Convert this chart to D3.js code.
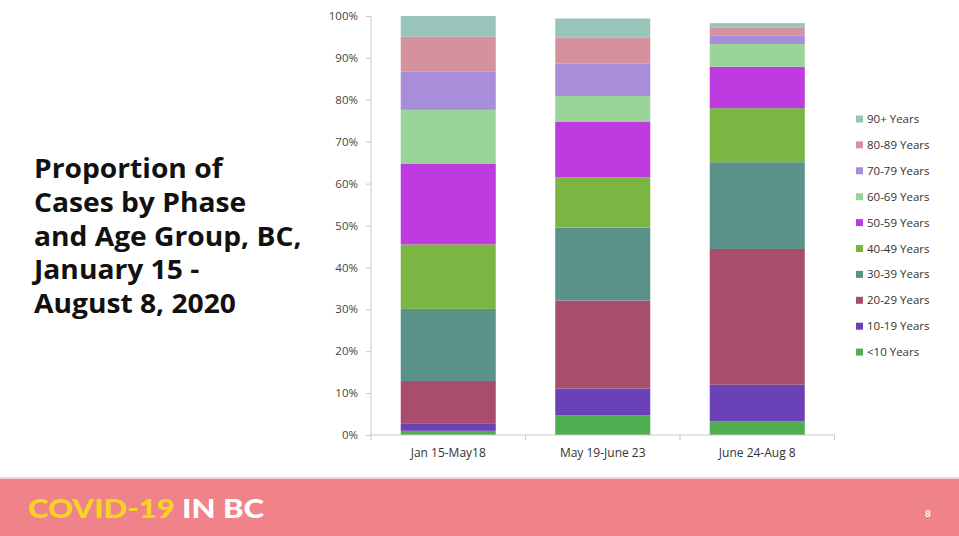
<!DOCTYPE html>
<html>
<head>
<meta charset="utf-8">
<script src="https://cdn.jsdelivr.net/npm/d3@7"></script>
<style>
  html, body { margin: 0; padding: 0; background: #fff; }
  svg { display: block; }
</style>
</head>
<body>
<svg id="chart" width="959" height="536"></svg>
<script>
const categories = ["Jan 15-May18", "May 19-June 23", "June 24-Aug 8"];
const ageGroups = ["<10 Years", "10-19 Years", "20-29 Years", "30-39 Years", "40-49 Years",
                   "50-59 Years", "60-69 Years", "70-79 Years", "80-89 Years", "90+ Years"];
// percentage of cases per age group, per phase (bottom to top)
const valuesLt10  = [1.0, 4.7, 3.3];
const values10_19 = [1.8, 6.4, 8.7];
const values20_29 = [10.1, 21.0, 32.4];
const values30_39 = [17.2, 17.4, 20.7];
const values40_49 = [15.4, 12.0, 12.9];
const values50_59 = [19.3, 13.2, 9.9];
const values60_69 = [12.8, 6.2, 5.4];
const values70_79 = [9.2, 7.8, 2.1];
const values80_89 = [8.3, 6.2, 1.9];
const values90p   = [4.9, 4.5, 1.0];
const yTicks = [0, 10, 20, 30, 40, 50, 60, 70, 80, 90, 100];
const colors = ["#4FAE4F", "#6A41B6", "#A94D6C", "#5A9189", "#7CB642",
                "#BE3BE0", "#99D498", "#A88ED8", "#D5919E", "#99C4B9"];
const titleLines = ["Proportion of", "Cases by Phase", "and Age Group, BC,", "January 15 -", "August 8, 2020"];

const seriesValues = [valuesLt10, values10_19, values20_29, values30_39, values40_49,
                      values50_59, values60_69, values70_79, values80_89, values90p];

const svg = d3.select("#chart");

// footer band
svg.append("rect").attr("x", 0).attr("y", 477).attr("width", 959).attr("height", 3)
  .attr("fill", "#f6d3d4");
svg.append("rect").attr("x", 0).attr("y", 479).attr("width", 959).attr("height", 57)
  .attr("fill", "#F08389");
const foot = svg.append("text").attr("transform", "translate(28,518) scale(1.15,1)")
  .attr("font-family", "Lato, 'Open Sans', sans-serif").attr("font-weight", 900)
  .attr("font-size", 27);
foot.append("tspan").attr("fill", "#F7D324").text("COVID-19 ");
foot.append("tspan").attr("fill", "#ffffff").text("IN BC");
svg.append("text").attr("x", 928).attr("y", 517).attr("text-anchor", "middle")
  .attr("font-family", "Lato, sans-serif").attr("font-weight", 700).attr("font-size", 10)
  .attr("fill", "#fff").text("8");

// title
const title = svg.append("text").attr("font-family", "'Open Sans', 'Noto Sans', sans-serif")
  .attr("font-weight", 700).attr("font-size", 26).attr("fill", "#111")
  .attr("transform", "translate(34,0) scale(1.085,1)");
titleLines.forEach((t, i) => {
  title.append("tspan").attr("x", 0).attr("y", 178 + i * 33.8).text(t);
});

// scales
const x = d3.scaleBand().domain(categories).range([371, 834.5]).paddingInner(0.385).paddingOuter(0.1925);
const y = d3.scaleLinear().domain([0, 100]).range([435, 16]);
const color = d3.scaleOrdinal().domain(ageGroups).range(colors);

const table = categories.map((c, i) => {
  const row = { cat: c };
  ageGroups.forEach((g, j) => row[g] = seriesValues[j][i]);
  return row;
});
const stacked = d3.stack().keys(ageGroups)(table);

const g = svg.append("g");
g.selectAll("g.series").data(stacked).join("g")
  .attr("fill", d => color(d.key))
  .selectAll("rect").data(d => d).join("rect")
  .attr("x", d => x(d.data.cat))
  .attr("width", x.bandwidth())
  .attr("y", d => y(d[1]))
  .attr("height", d => y(d[0]) - y(d[1]));

// y axis
const yAxis = d3.axisLeft(y).tickValues(yTicks).tickFormat(d => d + "%").tickSize(5).tickPadding(8);
const ya = svg.append("g").attr("transform", "translate(371,0)").call(yAxis);
ya.selectAll("path, line").attr("stroke", "#c8c8c8");
ya.select("path").attr("d", "M0,16V435");
ya.selectAll("text").attr("font-family", "'Open Sans', sans-serif").attr("font-size", 11.5)
  .attr("fill", "#444");

// x axis
const xa = svg.append("g").attr("transform", "translate(0,435)");
xa.append("line").attr("x1", 371).attr("x2", 834.5).attr("stroke", "#c8c8c8");
const step = x.step();
d3.range(categories.length + 1).forEach(i => {
  const px = 371 + i * step;
  xa.append("line").attr("x1", px).attr("x2", px).attr("y1", 0).attr("y2", 5).attr("stroke", "#c8c8c8");
});
xa.selectAll("text.lab").data(categories).join("text").attr("class", "lab")
  .attr("x", d => x(d) + x.bandwidth() / 2).attr("y", 22).attr("text-anchor", "middle")
  .attr("font-family", "'Open Sans', sans-serif").attr("font-size", 12).attr("fill", "#333")
  .text(d => d);

// legend
const legendOrder = ageGroups.slice().reverse();
const lg = svg.append("g");
legendOrder.forEach((k, i) => {
  const cy = 119 + i * 25.9;
  lg.append("rect").attr("x", 856).attr("y", cy - 3.5).attr("width", 7).attr("height", 7)
    .attr("fill", color(k));
  lg.append("text").attr("x", 867).attr("y", cy + 4)
    .attr("font-family", "'Open Sans', sans-serif").attr("font-size", 11.5).attr("fill", "#333")
    .text(k);
});
</script>
</body>
</html>
